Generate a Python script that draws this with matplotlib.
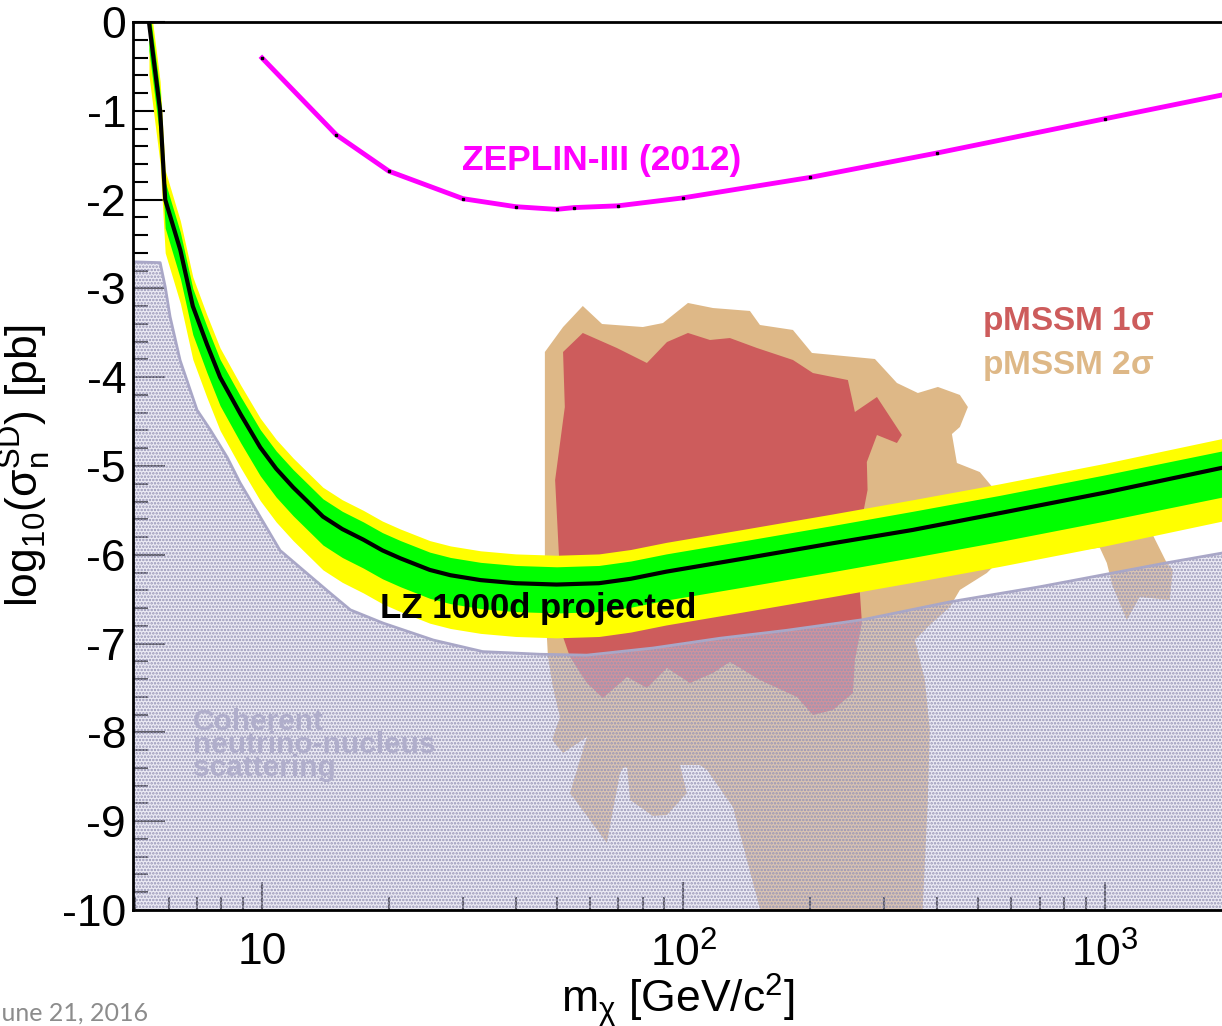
import matplotlib
matplotlib.use("Agg")
import matplotlib.pyplot as plt
from matplotlib.ticker import MultipleLocator, LogLocator, NullFormatter

plt.rcParams['font.family'] = ['Liberation Sans', 'DejaVu Sans']
plt.rcParams['mathtext.fontset'] = 'custom'
plt.rcParams['mathtext.rm'] = 'Liberation Sans'
plt.rcParams['mathtext.it'] = 'Liberation Sans:italic'
plt.rcParams['mathtext.bf'] = 'Liberation Sans:bold'
plt.rcParams['axes.unicode_minus'] = False
plt.rcParams['hatch.linewidth'] = 1.2

# === LZ 1000 d projected sensitivity (log10 sigma) ===
lz_mass = [5.39, 5.73, 5.89, 6.4, 6.85, 7.4, 7.95, 8.9, 9.9, 10.8, 11.85, 13.95,
           15.5, 17.4, 19.3, 21.3, 25, 28, 33, 40, 50, 63, 75, 91, 140, 226, 350,
           564, 1000, 1900]
lz_med = [0, -1, -2, -2.57, -3.2, -3.63, -4.0, -4.42, -4.79, -5.03, -5.24, -5.57,
          -5.71, -5.83, -5.95, -6.04, -6.17, -6.23, -6.285, -6.32, -6.335, -6.32,
          -6.27, -6.19, -6.04, -5.87, -5.72, -5.53, -5.30, -5.02]
lz_1s_hi = [0.2, -0.8, -1.8, -2.37, -3.0, -3.43, -3.8, -4.22, -4.59, -4.83, -5.04,
            -5.37, -5.51, -5.63, -5.75, -5.84, -5.97, -6.03, -6.085, -6.12, -6.135,
            -6.12, -6.07, -5.99, -5.84, -5.67, -5.51, -5.33, -5.10, -4.83]
lz_1s_lo = [-0.32, -1.32, -2.32, -2.89, -3.52, -3.95, -4.32, -4.74, -5.11, -5.35,
            -5.56, -5.89, -6.03, -6.15, -6.27, -6.36, -6.49, -6.55, -6.605, -6.64,
            -6.655, -6.64, -6.59, -6.51, -6.36, -6.19, -6.03, -5.85, -5.62, -5.35]
lz_2s_hi = [0.33, -0.67, -1.67, -2.24, -2.87, -3.30, -3.67, -4.09, -4.46, -4.70,
            -4.91, -5.24, -5.38, -5.5, -5.62, -5.71, -5.84, -5.9, -5.955, -5.99,
            -6.005, -5.99, -5.94, -5.86, -5.71, -5.54, -5.38, -5.2, -4.97, -4.69]
lz_2s_lo = [-0.6, -1.6, -2.6, -3.17, -3.8, -4.23, -4.6, -5.02, -5.39, -5.63, -5.84,
            -6.17, -6.31, -6.43, -6.55, -6.64, -6.77, -6.83, -6.885, -6.92, -6.935,
            -6.92, -6.87, -6.79, -6.64, -6.47, -6.31, -6.13, -5.90, -5.62]

# === ZEPLIN-III (2012) limit ===
zep_mass = [10, 15, 20, 30, 40, 50, 55, 70, 100, 200, 400, 1000, 2000]
zep_val = [-0.405, -1.27, -1.68, -1.99, -2.08, -2.11, -2.09, -2.07, -1.98,
           -1.75, -1.475, -1.09, -0.80]

# === coherent neutrino scattering floor ===
nu_mass = [4.9, 5.73, 5.89, 6.05, 6.39, 7.01, 7.53, 8.26, 8.87, 9.89, 11.03, 12.5,
           14.5, 16.2, 19.4, 25.5, 33.4, 45.7, 59.0, 84.7, 122, 176, 267, 429,
           701, 1403, 1900]
nu_val = [-2.70, -2.71, -2.98, -3.32, -3.81, -4.37, -4.59, -4.90, -5.19, -5.57,
          -5.95, -6.17, -6.43, -6.62, -6.77, -6.96, -7.09, -7.12, -7.13, -7.05,
          -6.94, -6.85, -6.73, -6.53, -6.36, -6.09, -5.98]

# === pMSSM 2 sigma region ===
p2_mass = [46.9, 51.8, 57.7, 64.1, 80.1, 89.4, 102.5, 117.5, 143.8, 151.9, 181.9,
           201.8, 284.7, 321.1, 360.0, 401.7, 452.9, 473.2, 452.9, 433.6, 445.6,
           505.0, 548.3, 782, 973, 1300, 1403, 1450, 1426, 1211, 1128, 1045, 1011,
           973, 563.6, 524.8, 452.9, 428.8, 384.3, 354.2, 374.1, 384.3, 380.2,
           367.9, 156.1, 131.0, 113.7, 109.4, 98.1, 101.9, 91.4, 84.6, 74.7, 73.5,
           71.9, 70.7, 65.8, 53.8, 59.0, 51.8, 48.8, 50.9, 49.0, 47.7, 46.9, 46.9]
p2_val = [-3.716, -3.435, -3.198, -3.401, -3.435, -3.390, -3.164, -3.221, -3.254,
          -3.412, -3.468, -3.727, -3.795, -4.065, -4.178, -4.110, -4.200, -4.336,
          -4.561, -4.640, -4.966, -5.068, -5.270, -5.55, -5.89, -5.777, -6.092,
          -6.171, -6.509, -6.475, -6.734, -6.363, -6.092, -5.92, -6.059, -6.205,
          -6.396, -6.588, -6.791, -6.959, -7.410, -7.973, -8.761, -10.2, -10.2,
          -8.840, -8.423, -8.367, -8.367, -8.682, -8.930, -8.941, -8.761, -8.390,
          -8.401, -8.457, -9.245, -8.682, -8.052, -8.232, -8.086, -7.827, -7.489,
          -7.151, -6.509, -4.820]

# === pMSSM 1 sigma region ===
p1_mass = [51.8, 57.7, 69.5, 81.9, 91.4, 102.5, 115.6, 128.9, 149.4, 181.9, 202.9,
           245.6, 255.2, 287.9, 329.9, 321.1, 287.9, 272.4, 273.5, 262.3, 262.3,
           265.2, 255.2, 252.5, 226.3, 202.9, 185.9, 151.9, 128.9, 117.5, 103.6,
           91.4, 81.9, 73.5, 64.4, 59.0, 53.8, 51.8, 49.6, 52.3]
p1_val = [-3.716, -3.502, -3.671, -3.840, -3.604, -3.502, -3.581, -3.559, -3.671,
          -3.806, -3.953, -4.032, -4.392, -4.223, -4.651, -4.741, -4.651, -4.955,
          -5.270, -5.72, -6.430, -6.768, -7.185, -7.556, -7.748, -7.804, -7.601,
          -7.410, -7.207, -7.331, -7.444, -7.275, -7.500, -7.376, -7.613, -7.444,
          -7.151, -6.926, -5.158, -4.336]

xtick_vals = [10, 100, 1000]
xtick_labels = ['10', r'$10^{2}$', r'$10^{3}$']

fig = plt.figure(figsize=(12.22, 10.26), dpi=100)
ax = fig.add_axes([133 / 1222, 1 - 910 / 1026, 1 - 133 / 1222, (910 - 22) / 1026])

ax.fill(p2_mass, p2_val, color='#deb887', lw=0, zorder=1)
ax.fill(p1_mass, p1_val, color='#cd5c5c', lw=0, zorder=2)

# neutrino floor: light tint + dot hatch + outline
floor_m = nu_mass + [nu_mass[-1], nu_mass[0]]
floor_v = nu_val + [-10.5, -10.5]
ax.fill(floor_m, floor_v, facecolor=(0.84, 0.83, 0.91, 0.45), lw=0, zorder=3)
ax.fill(floor_m, floor_v, facecolor='none', edgecolor='#9694b6', hatch='.....',
        lw=0, zorder=3)
ax.plot(nu_mass, nu_val, color='#a9a7c7', lw=2, zorder=3)

ax.fill_between(lz_mass, lz_2s_lo, lz_2s_hi, color='#ffff00', lw=0, zorder=4)
ax.fill_between(lz_mass, lz_1s_lo, lz_1s_hi, color='#00ff00', lw=0, zorder=5)
ax.plot(lz_mass, lz_med, color='black', lw=3, zorder=6)

ax.plot(zep_mass, zep_val, color='#ff00ff', lw=3.5, zorder=6)
ax.plot(zep_mass, zep_val, ls='none', marker='s', ms=2, color='black', zorder=7)

ax.text(29.8, -1.565, 'ZEPLIN-III (2012)', color='#ff00ff', fontsize=25.5,
        fontweight='bold', ha='left', va='center', zorder=8)
ax.text(19.05, -6.6, 'LZ 1000d projected', color='black', fontsize=25,
        fontweight='bold', ha='left', va='center', zorder=8)
ax.text(510, -3.38, r'pMSSM 1$\mathregular{\sigma}$', color='#cd5c5c', fontsize=24,
        fontweight='bold', ha='left', va='center', zorder=8)
ax.text(510, -3.87, r'pMSSM 2$\mathregular{\sigma}$', color='#deb887', fontsize=24,
        fontweight='bold', ha='left', va='center', zorder=8)
ax.text(6.86, -7.73, 'Coherent\nneutrino-nucleus\nscattering', color='#b0aecb',
        fontsize=21.5, fontweight='bold', ha='left', va='top', linespacing=0.77,
        zorder=8)

ax.set_xscale('log')
ax.set_xlim(4.94, 1897)
ax.set_ylim(-10, 0)

ax.yaxis.set_major_locator(MultipleLocator(1))
ax.yaxis.set_minor_locator(MultipleLocator(0.2))
ax.set_xticks(xtick_vals)
ax.set_xticklabels(xtick_labels)
ax.xaxis.set_minor_locator(LogLocator(base=10, subs=range(2, 10)))
ax.xaxis.set_minor_formatter(NullFormatter())

ax.tick_params(axis='y', which='major', direction='in', length=23, width=1.5,
               labelsize=32, pad=5)
ax.tick_params(axis='y', which='minor', direction='in', length=11, width=1.5)
ax.tick_params(axis='x', which='major', direction='in', length=20, width=1.5,
               labelsize=32, pad=16)
ax.tick_params(axis='x', which='minor', direction='in', length=9.5, width=1.5)

for s in ['left', 'top', 'bottom']:
    ax.spines[s].set_linewidth(2)
    ax.spines[s].set_zorder(10)
ax.spines['right'].set_visible(False)

ax.set_ylabel(r'$\mathregular{log_{10}(\sigma_{n}^{SD})\ [pb]}$', fontsize=32,
              labelpad=6)
ax.set_xlabel(r'$\mathregular{m_{\chi}\ [GeV/c^{2}]}$', fontsize=32, labelpad=-3)

fig.text(-9 / 1222, 5 / 1026, 'June 21, 2016', color='#8c8c8c', fontsize=18,
         family=['Lato', 'DejaVu Sans'], ha='left', va='baseline')

fig.savefig('out.png', dpi=100)
